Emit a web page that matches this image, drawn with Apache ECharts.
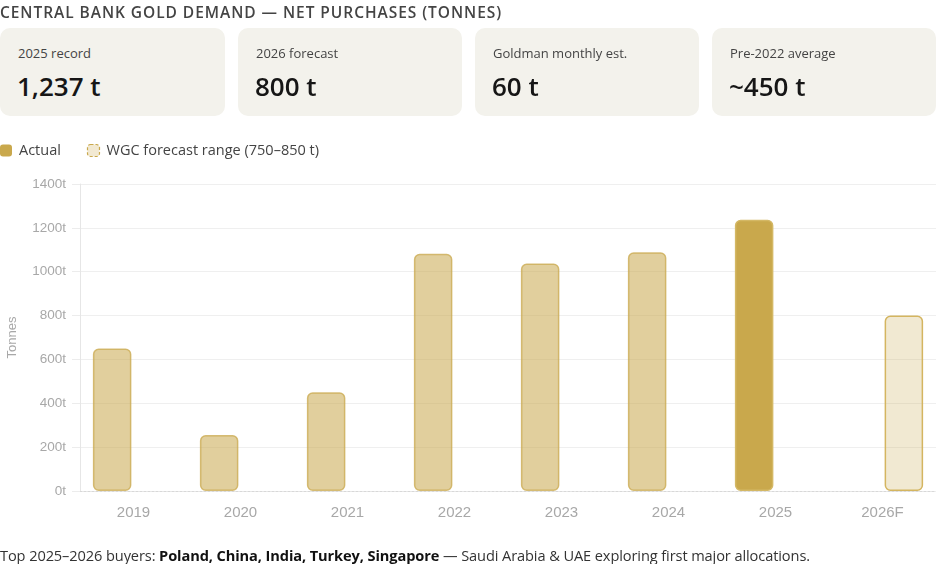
<!DOCTYPE html>
<html>
<head>
<meta charset="utf-8">
<script src="https://cdn.jsdelivr.net/npm/echarts@6/dist/echarts.min.js"></script>
<style>
  html, body { margin: 0; padding: 0; background: #fff; }
  body { width: 936px; height: 564px; position: relative; overflow: hidden; font-family: "Open Sans", "Noto Sans", sans-serif; }
  #chart { position: absolute; left: 0; top: 0; width: 936px; height: 564px; }
  .title { position: absolute; left: 0; top: 1px; font-size: 15.5px; font-weight: 600; letter-spacing: 0.95px; color: #444; white-space: nowrap; }
  .card { position: absolute; top: 28px; height: 88px; background: #f3f2ec; border-radius: 10px; }
  .card .lab { position: absolute; left: 18px; top: 16px; font-size: 13px; color: #444; white-space: nowrap; }
  .card .val { position: absolute; left: 17px; top: 40px; font-size: 26px; font-weight: 600; color: #161616; white-space: nowrap; }
  .foot { position: absolute; left: 0; top: 545px; font-size: 14.6px; color: #333; white-space: nowrap; letter-spacing: -0.1px; }
  .foot b { font-weight: 700; color: #111; }
</style>
</head>
<body>
<div id="chart"></div>
<div class="title">CENTRAL BANK GOLD DEMAND — NET PURCHASES (TONNES)</div>
<div class="card" style="left:0;width:225px"><div class="lab">2025 record</div><div class="val">1,237 t</div></div>
<div class="card" style="left:238px;width:224px"><div class="lab">2026 forecast</div><div class="val">800 t</div></div>
<div class="card" style="left:475px;width:224px"><div class="lab">Goldman monthly est.</div><div class="val">60 t</div></div>
<div class="card" style="left:712px;width:224px"><div class="lab">Pre-2022 average</div><div class="val">~450 t</div></div>
<div class="foot">Top 2025–2026 buyers: <b>Poland, China, India, Turkey, Singapore</b> — Saudi Arabia &amp; UAE exploring first major allocations.</div>
<script>
const categories = ['2019', '2020', '2021', '2022', '2023', '2024', '2025', '2026F'];
const actualValues = [650, 255, 450, 1082, 1037, 1089, 1237, null];
const forecastValues = [null, null, null, null, null, null, null, 800];
const yTicks = { min: 0, max: 1400, interval: 200 };
const highlightCategory = '2025';

const gold = '#c9a84c';
const goldLight = 'rgba(201,168,76,0.55)';
const goldPale = 'rgba(201,168,76,0.25)';

const chart = echarts.init(document.getElementById('chart'), null, { renderer: 'canvas' });

const actualData = actualValues.map((v, i) => ({
  value: v,
  itemStyle: categories[i] === highlightCategory
    ? { color: gold, borderColor: '#d4b865' }
    : { color: goldLight, borderColor: 'rgba(201,168,76,0.75)' }
}));

chart.setOption({
  animation: false,
  textStyle: { fontFamily: '"Liberation Sans", Arial, sans-serif' },
  legend: {
    left: 0, top: 143, padding: 0,
    itemWidth: 12, itemHeight: 12, itemGap: 26,
    icon: 'roundRect',
    textStyle: { fontFamily: '"Open Sans", "Noto Sans", sans-serif', fontSize: 14.5, color: '#444', padding: [0, 0, 0, 2] },
    data: [
      { name: 'Actual', itemStyle: { color: gold, borderWidth: 0 } },
      { name: 'WGC forecast range (750–850 t)', itemStyle: { color: '#f2e9d2', borderColor: gold, borderWidth: 1.2, borderType: [3, 2] } }
    ]
  },
  grid: { left: 80, right: 0, top: 184, bottom: 73, containLabel: false, outerBoundsMode: 'none' },
  xAxis: {
    type: 'category',
    data: categories,
    axisLine: { show: true, lineStyle: { color: '#d8d8d8', type: [2, 2], width: 1 } },
    axisTick: { show: false },
    axisLabel: { color: '#a8a8a8', fontSize: 15, margin: 14 },
    splitLine: { show: false }
  },
  yAxis: {
    type: 'value',
    min: yTicks.min, max: yTicks.max, interval: yTicks.interval,
    name: 'Tonnes',
    nameLocation: 'middle',
    nameGap: 61,
    nameRotate: 90,
    nameTextStyle: { color: '#a8a8a8', fontSize: 13 },
    axisLine: { show: true, lineStyle: { color: '#e6e6e6' } },
    axisTick: { show: true, length: 8, lineStyle: { color: '#ececec' } },
    axisLabel: { color: '#a8a8a8', fontSize: 13.5, margin: 14, formatter: v => v + 't' },
    splitLine: { show: true, lineStyle: { color: '#efefef' } }
  },
  series: [
    {
      name: 'Actual',
      type: 'bar',
      data: actualData,
      barWidth: 38.5,
      barGap: '11%',
      itemStyle: { borderWidth: 1.5, borderRadius: 5 }
    },
    {
      name: 'WGC forecast range (750–850 t)',
      type: 'bar',
      data: forecastValues,
      barWidth: 38.5,
      barGap: '11%',
      itemStyle: { color: goldPale, borderColor: '#d4b560', borderWidth: 1.5, borderRadius: 5 }
    }
  ]
});
</script>
</body>
</html>
